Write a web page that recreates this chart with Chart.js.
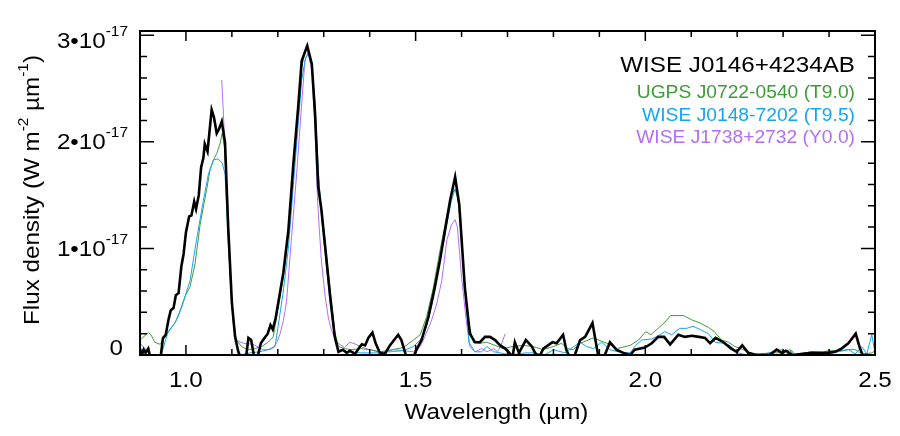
<!DOCTYPE html>
<html>
<head>
<meta charset="utf-8">
<script src="https://cdn.jsdelivr.net/npm/chart.js@4.4.0/dist/chart.umd.min.js"></script>
<style>
html, body { margin: 0; padding: 0; background: #fff; }
</style>
</head>
<body>
<canvas id="spec" width="900" height="436"></canvas>
<script>
// flux values are in units of 1e-17 W m-2 um-1

const seriesNames = ['WISE J0146+4234AB', 'UGPS J0722-0540 (T9.0)', 'WISE J0148-7202 (T9.5)', 'WISE J1738+2732 (Y0.0)'];
const seriesColors = ['#000000', '#3f9b3a', '#14a5f2', '#b36ef7'];

const wlObj = [0.900, 0.904, 0.908, 0.912, 0.918, 0.924, 0.944, 0.950, 0.956, 0.962, 0.967, 0.973, 0.978, 0.984, 0.990, 0.995,
  1.000, 1.007, 1.012, 1.018, 1.022, 1.028, 1.033, 1.038, 1.041, 1.047, 1.056, 1.061, 1.067, 1.072, 1.078, 1.085, 1.092,
  1.100, 1.107, 1.114, 1.122, 1.130, 1.136, 1.142, 1.149, 1.156, 1.163, 1.171, 1.178, 1.184, 1.189, 1.195, 1.201, 1.212,
  1.223, 1.234, 1.245, 1.252, 1.264, 1.274, 1.281, 1.288, 1.295, 1.303, 1.314, 1.324, 1.332, 1.342, 1.350, 1.357, 1.368,
  1.379, 1.383, 1.390, 1.397, 1.406, 1.413, 1.422, 1.433, 1.444, 1.462, 1.469, 1.480, 1.495, 1.502, 1.513, 1.528, 1.542,
  1.553, 1.564, 1.575, 1.586, 1.595, 1.607, 1.618, 1.629, 1.640, 1.651, 1.662, 1.673, 1.684, 1.695, 1.704, 1.711, 1.716,
  1.725, 1.740, 1.753, 1.760, 1.769, 1.778, 1.798, 1.807, 1.821, 1.828, 1.835, 1.845, 1.858, 1.869, 1.885, 1.898, 1.910,
  1.923, 1.937, 1.952, 1.967, 1.977, 1.999, 2.014, 2.028, 2.041, 2.054, 2.072, 2.086, 2.101, 2.117, 2.130, 2.141, 2.153,
  2.170, 2.187, 2.199, 2.211, 2.224, 2.240, 2.270, 2.286, 2.297, 2.306, 2.320, 2.362, 2.398, 2.413, 2.427, 2.442, 2.458,
  2.466, 2.473, 2.485];
const fluxObj = [0.06, 0.00, 0.05, 0.02, 0.06, -0.05, -0.05, 0.16, 0.19, 0.33, 0.42, 0.44, 0.56, 0.58, 0.83, 0.95,
  1.15, 1.30, 1.31, 1.44, 1.37, 1.50, 1.76, 1.85, 1.98, 1.91, 2.30, 2.23, 2.08, 2.12, 2.19, 2.00, 1.20,
  0.49, 0.17, 0.03, -0.05, -0.05, 0.16, 0.14, -0.03, -0.02, 0.11, 0.16, 0.20, 0.28, 0.24, 0.34, 0.49, 0.77,
  1.17, 1.80, 2.36, 2.76, 2.90, 2.73, 2.27, 1.58, 1.36, 1.02, 0.55, 0.17, 0.03, 0.05, 0.02, 0.04, 0.01,
  0.08, 0.10, 0.09, 0.16, 0.21, 0.11, 0.02, 0.01, 0.09, 0.19, 0.14, -0.02, -0.02, 0.05, 0.14, 0.36, 0.64,
  0.89, 1.17, 1.45, 1.67, 1.41, 0.64, 0.20, 0.12, 0.12, 0.17, 0.17, 0.14, 0.09, 0.06, 0.02, -0.02, 0.12,
  0.02, 0.14, 0.08, 0.02, -0.02, 0.06, 0.12, 0.11, 0.19, 0.05, -0.02, -0.02, 0.14, 0.17, 0.30, -0.02, -0.02,
  0.12, 0.05, 0.02, 0.00, 0.05, 0.07, 0.11, 0.17, 0.17, 0.10, 0.19, 0.17, 0.18, 0.17, 0.16, 0.11, 0.16,
  0.12, 0.06, 0.03, 0.09, 0.02, 0.00, 0.00, 0.05, 0.02, 0.04, 0.00, 0.02, 0.02, 0.03, 0.06, 0.11, 0.20,
  0.08, 0.00, 0.00];

const wlT90 = [0.900, 0.918, 0.924, 0.932, 0.944, 0.958, 0.969, 0.976, 0.983, 0.990, 0.998, 1.009, 1.020, 1.031, 1.045,
  1.053, 1.060, 1.067, 1.074, 1.079, 1.084, 1.090, 1.096, 1.103, 1.110, 1.121, 1.135, 1.150, 1.165, 1.179, 1.190, 1.201,
  1.212, 1.223, 1.234, 1.245, 1.252, 1.260, 1.266, 1.274, 1.281, 1.288, 1.295, 1.303, 1.314, 1.324, 1.332, 1.345, 1.360,
  1.380, 1.400, 1.422, 1.450, 1.473, 1.495, 1.510, 1.524, 1.538, 1.553, 1.568, 1.578, 1.586, 1.593, 1.604, 1.615, 1.626,
  1.640, 1.655, 1.673, 1.690, 1.712, 1.734, 1.755, 1.778, 1.800, 1.818, 1.829, 1.843, 1.858, 1.887, 1.916, 1.938, 1.967,
  1.985, 2.001, 2.012, 2.028, 2.043, 2.055, 2.083, 2.101, 2.119, 2.137, 2.150, 2.166, 2.181, 2.195, 2.213, 2.228, 2.246,
  2.275, 2.297, 2.315, 2.322, 2.347, 2.362, 2.377, 2.398, 2.420, 2.442, 2.458, 2.464, 2.475, 2.493, 2.500];
const fluxT90 = [0.14, 0.21, 0.19, 0.12, 0.10, 0.19, 0.26, 0.30, 0.36, 0.45, 0.55, 0.64, 0.86, 1.23, 1.55,
  1.75, 1.83, 1.89, 1.98, 2.08, 1.95, 1.40, 0.73, 0.30, 0.14, 0.08, 0.05, 0.06, 0.08, 0.12, 0.17, 0.45,
  0.74, 1.14, 1.76, 2.34, 2.70, 2.86, 2.87, 2.73, 2.32, 1.68, 1.36, 1.06, 0.60, 0.22, 0.08, 0.06, 0.05,
  0.06, 0.05, 0.03, 0.05, 0.07, 0.14, 0.19, 0.36, 0.62, 0.98, 1.31, 1.52, 1.55, 1.45, 0.83, 0.30, 0.12,
  0.11, 0.12, 0.09, 0.06, 0.08, 0.09, 0.08, 0.05, 0.08, 0.11, 0.06, 0.05, 0.11, 0.16, 0.11, 0.06, 0.09,
  0.14, 0.22, 0.19, 0.25, 0.31, 0.37, 0.37, 0.33, 0.30, 0.26, 0.22, 0.14, 0.12, 0.08, 0.05, 0.02, 0.01,
  0.02, 0.02, 0.05, 0.00, 0.02, 0.03, 0.01, 0.04, 0.04, 0.05, 0.05, 0.03, 0.01, 0.02, 0.04];

const wlT95 = [0.900, 0.911, 0.925, 0.945, 0.961, 0.976, 0.991, 1.009, 1.023, 1.038, 1.049, 1.060, 1.070, 1.079, 1.085,
  1.092, 1.101, 1.110, 1.118, 1.140, 1.160, 1.179, 1.194, 1.201, 1.212, 1.223, 1.234, 1.245, 1.252, 1.260, 1.266, 1.274,
  1.281, 1.288, 1.295, 1.303, 1.314, 1.324, 1.332, 1.350, 1.380, 1.410, 1.430, 1.451, 1.473, 1.495, 1.510, 1.524, 1.538,
  1.553, 1.568, 1.578, 1.586, 1.590, 1.597, 1.607, 1.616, 1.629, 1.644, 1.655, 1.670, 1.684, 1.705, 1.740, 1.760, 1.780,
  1.800, 1.825, 1.858, 1.872, 1.887, 1.905, 1.923, 1.941, 1.967, 1.977, 1.992, 2.014, 2.028, 2.043, 2.057, 2.075, 2.090,
  2.104, 2.119, 2.137, 2.152, 2.170, 2.184, 2.202, 2.220, 2.260, 2.297, 2.304, 2.319, 2.326, 2.362, 2.410, 2.420, 2.442,
  2.457, 2.471, 2.482, 2.493, 2.500];
const fluxT95 = [0.11, 0.06, -0.02, -0.02, 0.22, 0.30, 0.45, 0.70, 1.08, 1.45, 1.70, 1.83, 1.84, 1.80, 1.70,
  1.08, 0.45, 0.10, 0.00, 0.02, 0.03, 0.05, 0.08, 0.28, 0.60, 1.00, 1.60, 2.20, 2.58, 2.78, 2.83, 2.72,
  2.36, 1.74, 1.30, 0.95, 0.48, 0.15, 0.05, 0.03, 0.02, 0.02, 0.02, 0.05, 0.04, 0.08, 0.14, 0.27, 0.52,
  0.89, 1.23, 1.45, 1.56, 1.52, 1.33, 0.64, 0.12, 0.03, 0.03, 0.08, 0.03, 0.02, 0.00, 0.02, 0.02, 0.00,
  0.05, 0.02, 0.12, 0.08, 0.06, 0.12, 0.05, 0.03, 0.02, 0.08, 0.14, 0.15, 0.18, 0.22, 0.19, 0.25, 0.25,
  0.27, 0.24, 0.20, 0.12, 0.11, 0.09, 0.02, 0.00, 0.01, 0.05, 0.00, 0.04, 0.00, 0.03, 0.02, 0.03, 0.05,
  0.01, 0.08, 0.01, 0.19, 0.02];

const wlY00 = [1.078, 1.085, 1.092, 1.100, 1.108, 1.114, 1.125, 1.146, 1.168, 1.183, 1.190, 1.198, 1.205, 1.212, 1.219,
  1.230, 1.241, 1.252, 1.259, 1.266, 1.274, 1.281, 1.286, 1.290, 1.295, 1.303, 1.310, 1.317, 1.328, 1.345, 1.357, 1.370,
  1.385, 1.400, 1.420, 1.444, 1.473, 1.495, 1.510, 1.520, 1.535, 1.546, 1.557, 1.568, 1.578, 1.586, 1.591, 1.600, 1.610,
  1.618, 1.629, 1.644, 1.655, 1.670, 1.678, 1.685, 1.695];
const fluxY00 = [2.58, 1.95, 1.10, 0.45, 0.16, 0.13, 0.11, 0.10, 0.05, 0.05, 0.07, 0.12, 0.20, 0.32, 0.50,
  1.11, 1.70, 2.36, 2.76, 2.84, 2.67, 2.11, 1.50, 1.20, 0.88, 0.55, 0.35, 0.23, 0.12, 0.07, 0.12, 0.10,
  0.07, 0.05, 0.03, 0.03, 0.04, 0.03, 0.08, 0.17, 0.33, 0.48, 0.70, 1.08, 1.22, 1.27, 1.20, 0.73, 0.33,
  0.08, 0.03, 0.06, 0.03, 0.06, 0.03, 0.08, 0.20];

const xTickValues = [1.0, 1.5, 2.0, 2.5];
const xTickLabels = ['1.0', '1.5', '2.0', '2.5'];
const yTickValues = [0, 1, 2, 3];
const yTickLabels = [['0', ''], ['1•10', '-17'], ['2•10', '-17'], ['3•10', '-17']];

const FONT = '"Liberation Sans", Arial, Helvetica, sans-serif';
const SX = 1.1; // original lettering is a little wide

function pairs(xs, ys) {
    return xs.map((x, i) => ({ x: x, y: ys[i] }));
}

// parts: [text, size, raise]
function wideText(ctx, parts, x, y, align, angle) {
    let w = 0;
    parts.forEach(p => {
        ctx.font = p[1] + 'px ' + FONT;
        w += ctx.measureText(p[0]).width;
    });
    ctx.save();
    ctx.translate(x, y);
    if (angle) ctx.rotate(angle);
    ctx.scale(SX, 1);
    let cx = align === 'right' ? -w : align === 'center' ? -w / 2 : 0;
    ctx.textAlign = 'left';
    ctx.textBaseline = 'alphabetic';
    parts.forEach(p => {
        ctx.font = p[1] + 'px ' + FONT;
        ctx.fillText(p[0], cx, -(p[2] || 0));
        cx += ctx.measureText(p[0]).width;
    });
    ctx.restore();
}

const framePlugin = {
    id: 'idlFrame',
    afterDraw: (chart) => {
        const { ctx, chartArea, scales } = chart;
        const { left, right, top, bottom } = chartArea;
        ctx.save();
        ctx.strokeStyle = '#000';
        ctx.fillStyle = '#000';
        ctx.lineWidth = 2;
        ctx.strokeRect(left, top, right - left, bottom - top);

        // x ticks every 0.1, longer at labelled ones
        ctx.lineWidth = 1.5;
        ctx.beginPath();
        for (let i = 9; i <= 25; i++) {
            const v = i / 10;
            const px = scales.x.getPixelForValue(v);
            const len = (i % 5 === 0) ? 10 : 6;
            ctx.moveTo(px, bottom); ctx.lineTo(px, bottom - len);
            ctx.moveTo(px, top); ctx.lineTo(px, top + len);
        }
        // y ticks every 0.2
        for (let i = 0; i <= 15; i++) {
            const v = i / 5;
            const py = scales.y.getPixelForValue(v);
            const len = (i % 5 === 0) ? 14 : 7;
            ctx.moveTo(left, py); ctx.lineTo(left + len, py);
            ctx.moveTo(right, py); ctx.lineTo(right - len, py);
        }
        ctx.stroke();

        xTickValues.forEach((v, i) => {
            wideText(ctx, [[xTickLabels[i], 22]], scales.x.getPixelForValue(v), bottom + 32, 'center');
        });
        yTickValues.forEach((v, i) => {
            let base = scales.y.getPixelForValue(v) + 7.5;
            base = Math.min(bottom, Math.max(top + 17, base));
            const lab = yTickLabels[i];
            const parts = [[lab[0], 22]];
            if (lab[1]) parts.push([lab[1], 14, 12]);
            wideText(ctx, parts, lab[1] ? 128 : 123, base, 'right');
        });

        wideText(ctx, [['Wavelength (µm)', 22]], (left + right) / 2 - 11, bottom + 64, 'center');
        wideText(ctx, [['Flux density (W m', 22], ['-2', 14, 11], [' µm', 22], ['-1', 14, 11], [')', 22]],
            38.5, (top + bottom) / 2 - 3, 'center', -Math.PI / 2);

        // legend
        const legY = [72, 98, 120.5, 142.5];
        seriesNames.forEach((name, i) => {
            ctx.fillStyle = seriesColors[i];
            wideText(ctx, [[name, i === 0 ? 22 : 17.5]], 855, legY[i], 'right');
        });
        ctx.restore();
    }
};

new Chart(document.getElementById('spec').getContext('2d'), {
    type: 'line',
    data: {
        datasets: [
            { label: seriesNames[0], data: pairs(wlObj, fluxObj), borderColor: seriesColors[0], borderWidth: 2.6 },
            { label: seriesNames[2], data: pairs(wlT95, fluxT95), borderColor: seriesColors[2], borderWidth: 1 },
            { label: seriesNames[1], data: pairs(wlT90, fluxT90), borderColor: seriesColors[1], borderWidth: 1 },
            { label: seriesNames[3], data: pairs(wlY00, fluxY00), borderColor: seriesColors[3], borderWidth: 1 }
        ].map(d => Object.assign(d, { pointRadius: 0, tension: 0, fill: false, clip: 0 }))
    },
    options: {
        responsive: false,
        animation: false,
        devicePixelRatio: 1,
        layout: { padding: { left: 140, right: 25, top: 31, bottom: 81 } },
        scales: {
            x: { type: 'linear', min: 0.9, max: 2.5, display: false },
            y: { type: 'linear', min: 0, max: 3.04, display: false }
        },
        plugins: {
            legend: { display: false },
            tooltip: { enabled: false }
        }
    },
    plugins: [framePlugin]
});
</script>
</body>
</html>
